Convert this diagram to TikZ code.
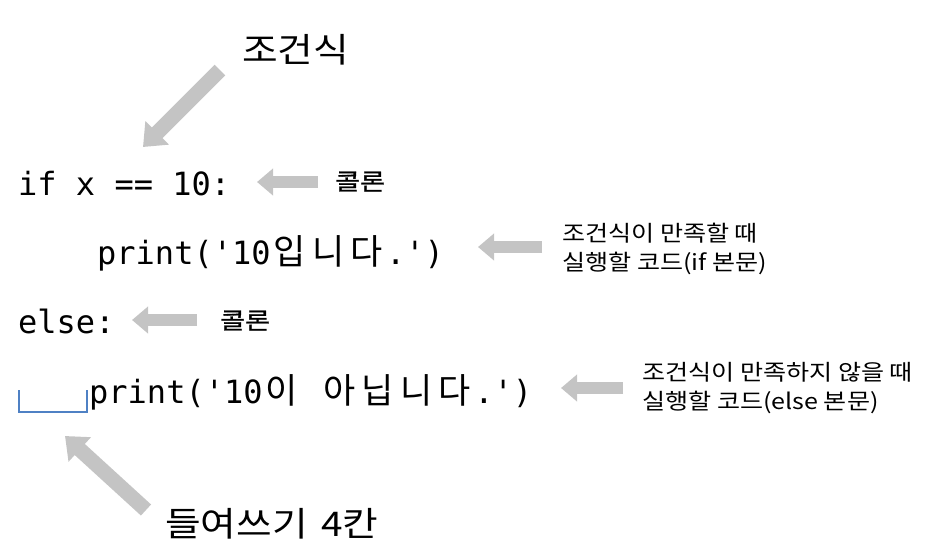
\documentclass[tikz,border=0pt]{standalone}
\usepackage{fontspec}
\newfontfamily\krfont[FakeStretch=1.14]{Noto Sans CJK KR}
\newfontfamily\krbold[FakeStretch=1.18,FakeBold=1.2]{Noto Sans CJK KR}
\newfontfamily\krcode{Noto Sans CJK KR}
\newfontfamily\codefont{DejaVu Sans Mono}
\newcommand\kc[1]{\makebox[38.5pt]{\krcode\fontsize{35}{38}\selectfont #1}}
\usetikzlibrary{arrows.meta}
\definecolor{arrowgray}{RGB}{196,196,196}
\definecolor{indentblue}{RGB}{79,129,196}
\tikzset{
  codeline/.style={anchor=base west, inner sep=0pt, font=\codefont\fontsize{32}{38}\selectfont},
  biglabel/.style={anchor=base west, inner sep=0pt, font=\krfont\fontsize{34}{40}\selectfont},
  smalllabel/.style={anchor=base west, inner sep=0pt, font=\krbold\fontsize{23}{26}\selectfont},
  notelabel/.style={anchor=west, inner sep=0pt, align=left, font=\krfont\fontsize{22}{29}\selectfont},
  blockarrow/.style={draw=arrowgray, line width=12pt, -{Triangle[width=26pt,length=16pt]}},
  bigarrow/.style={draw=arrowgray, line width=15pt, -{Triangle[width=32pt,length=20pt]}},
  indent/.style={draw=indentblue, line width=1.8pt}
}
\begin{document}
\begin{tikzpicture}[x=1pt,y=-1pt]
\useasboundingbox (0,0) rectangle (943,558);
% labels
\node[biglabel] (cond) at (242,62) {조건식};
\node[biglabel] (ind) at (165,536) {들여쓰기\hspace{0.4em}4칸};
% code
\node[codeline] (l1) at (18,195) {if x == 10:};
\node[codeline] (l2) at (97,264) {print(\textquotesingle 10\kc{입}\kc{니}\kc{다}.\textquotesingle)};
\node[codeline] (l3) at (18,333) {else:};
\node[codeline] (l4) at (89,403) {print(\textquotesingle 10\kc{이} \kc{아}\kc{닙}\kc{니}\kc{다}.\textquotesingle)};
% notes
\node[smalllabel] (c1) at (335,190) {콜론};
\node[smalllabel] (c2) at (220,329) {콜론};
\node[notelabel] (n1) at (562,249) {조건식이 만족할 때\\실행할 코드(if 본문)};
\node[notelabel] (n2) at (642,388) {조건식이 만족하지 않을 때\\실행할 코드(else 본문)};
% arrow ends
\coordinate (t0) at (220,70);  \coordinate (h0) at (143,147);
\coordinate (t1) at (318,182); \coordinate (h1) at (257,182);
\coordinate (t2) at (542,247); \coordinate (h2) at (478,247);
\coordinate (t3) at (197,320); \coordinate (h3) at (132,320);
\coordinate (t4) at (623,388); \coordinate (h4) at (561,388);
\coordinate (t5) at (146,510); \coordinate (h5) at (65,436);
\draw[bigarrow] (t0) -- (h0);
\draw[blockarrow] (t1) -- (h1);
\draw[blockarrow] (t2) -- (h2);
\draw[blockarrow] (t3) -- (h3);
\draw[blockarrow] (t4) -- (h4);
\draw[bigarrow] (t5) -- (h5);
% indentation bracket
\coordinate (b1) at (19,390);
\coordinate (b2) at (87,390);
\draw[indent] (b1) |- (87,412) -- (b2);
\end{tikzpicture}
\end{document}
